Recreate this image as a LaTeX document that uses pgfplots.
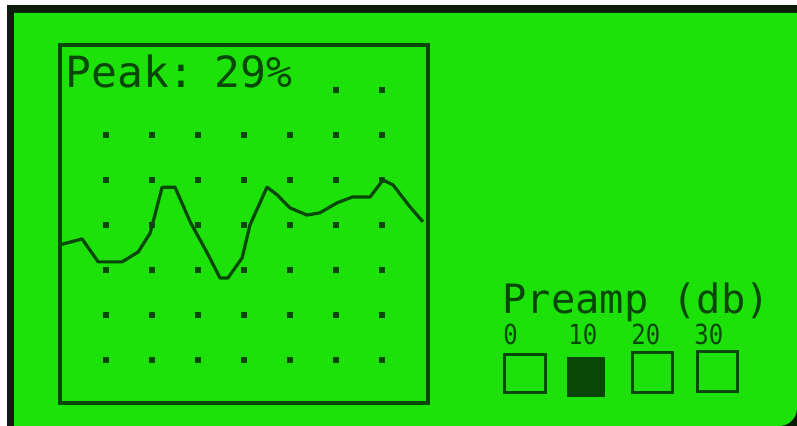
\documentclass[border=0pt]{standalone}
\usepackage{pgfplots}
\pgfplotsset{compat=1.18}
\usepackage{fontspec}
\setmainfont{DejaVu Sans Mono}
\definecolor{lcdbg}{RGB}{28,226,10}
\definecolor{lcdink}{RGB}{8,72,6}
\definecolor{edge}{RGB}{12,28,8}
\begin{document}
\begin{tikzpicture}
\useasboundingbox (0,0) rectangle (398.5pt,213pt);
\fill[white] (0,0) rectangle (398.5pt,213pt);
\fill[edge] (3.5pt,0) rectangle (398.5pt,210.5pt);
\fill[lcdbg] (7pt,0pt) -- (7pt,206.5pt) -- (398.5pt,206.5pt) -- (398.5pt,20pt) [rounded corners=9pt] -- (398.5pt,0pt) [sharp corners] -- (390pt,0pt) -- cycle;
\begin{axis}[
  at={(30pt,11.5pt)}, anchor=south west,
  scale only axis, width=184pt, height=179pt,
  xmin=0, xmax=8, ymin=0.044, ymax=8,
  xtick=\empty, ytick=\empty,
  axis line style={lcdink, line width=1.8pt},
  clip=false,
]
\addplot[only marks, mark=square*, mark size=1.2pt, color=lcdink] coordinates {
(1,1)(2,1)(3,1)(4,1)(5,1)(6,1)(7,1)
(1,2)(2,2)(3,2)(4,2)(5,2)(6,2)(7,2)
(1,3)(2,3)(3,3)(4,3)(5,3)(6,3)(7,3)
(1,4)(2,4)(3,4)(4,4)(5,4)(6,4)(7,4)
(1,5)(2,5)(3,5)(4,5)(5,5)(6,5)(7,5)
(1,6)(2,6)(3,6)(4,6)(5,6)(6,6)(7,6)
(6,7)(7,7)
};
\addplot[color=lcdink, line width=1.6pt, line join=round] coordinates {
(0,3.56)(0.48,3.69)(0.83,3.18)(1.35,3.18)(1.70,3.40)(1.96,3.82)
(2.22,4.84)(2.50,4.84)(2.83,4.07)(3.20,3.38)(3.48,2.82)(3.65,2.82)
(3.96,3.27)(4.13,4.00)(4.50,4.84)(4.72,4.67)(5.00,4.38)(5.37,4.22)
(5.65,4.27)(6.02,4.49)(6.35,4.62)(6.74,4.62)(7.02,5.00)(7.24,4.89)
(7.61,4.40)(7.89,4.07)
};
\end{axis}
\node[anchor=base west, inner sep=0, text=lcdink, font=\fontsize{21.5}{24}\selectfont] at (32.5pt,169pt) {Peak:\kern-3pt\ 29\%};
\node[anchor=base west, inner sep=0, text=lcdink, font=\fontsize{20.2}{24}\selectfont] at (251pt,56pt) {Preamp (db)};
\begin{scope}[every node/.style={anchor=base west, inner sep=0, text=lcdink, yscale=1.15, font=\fontsize{12}{14}\selectfont}]
\node at (251.5pt,40.5pt) {0};
\node at (284pt,40.5pt) {10};
\node at (315.5pt,40.5pt) {20};
\node at (347pt,40.5pt) {30};
\end{scope}
\draw[lcdink, line width=1.5pt] (252pt,16.5pt) rectangle (272.5pt,35.5pt);
\fill[lcdink] (283.5pt,14.5pt) rectangle (302.5pt,34.5pt);
\draw[lcdink, line width=1.5pt] (316pt,16.5pt) rectangle (336pt,36.5pt);
\draw[lcdink, line width=1.5pt] (348.5pt,17pt) rectangle (368.5pt,37pt);
\end{tikzpicture}
\end{document}
